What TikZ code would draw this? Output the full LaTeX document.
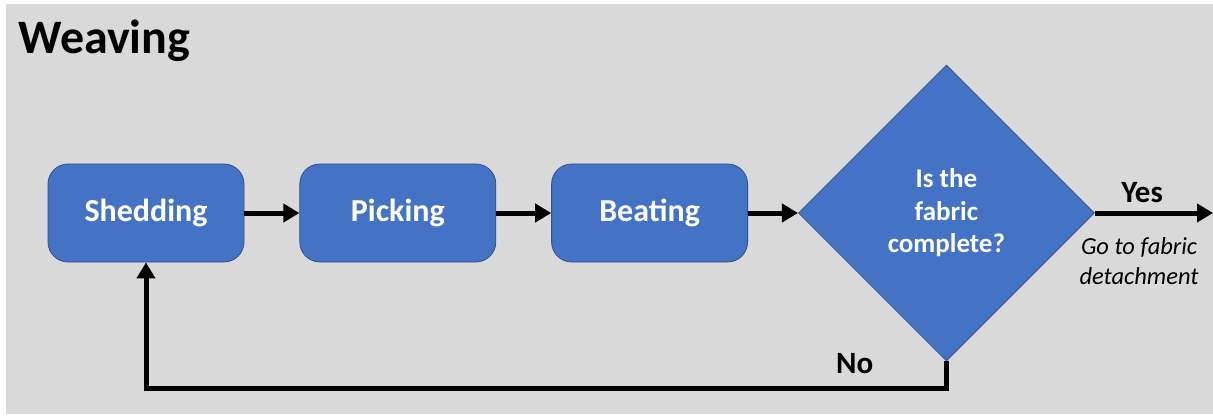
\documentclass[tikz,border=0pt]{standalone}
\usepackage{fontspec}
\setmainfont{Carlito}
\usetikzlibrary{shapes.geometric, arrows.meta, positioning}

\definecolor{stepblue}{HTML}{4472C4}
\definecolor{stepedge}{HTML}{2F528F}
\definecolor{slidegray}{HTML}{D9D9D9}

\begin{document}
\begin{tikzpicture}[
    x=1pt, y=-1pt,
    node distance=55pt,
    % Stili dei nodi
    stepbox/.style={rectangle, rounded corners=20pt, draw=stepedge, line width=0.8pt, fill=stepblue, minimum width=196pt, minimum height=98pt, text=white, font=\fontsize{32}{38}\selectfont\bfseries},
    decision/.style={diamond, aspect=1, draw=stepedge, line width=0.8pt, fill=stepblue, minimum width=296pt, minimum height=296pt, inner sep=0pt, text=white, align=center, font=\fontsize{27}{32.5}\selectfont\bfseries},
    answer/.style={font=\fontsize{31}{36}\selectfont\bfseries},
    arrow/.style={-{Triangle[length=16pt, width=18pt]}, line width=5pt}
]

    % ==================== SFONDO ====================
    \useasboundingbox (0,0) rectangle (1213,417);
    \fill[white] (0,0) rectangle (1213,417);
    \fill[slidegray] (6,4) rectangle (1213,414);

    \node[anchor=base west, inner sep=0pt, font=\fontsize{48}{56}\selectfont\bfseries] (title) at (18,54) {Weaving};

    % ==================== FASI ====================
    \node [stepbox] (shedding) at (146,213) {Shedding};
    \node [stepbox, right=of shedding] (picking) {Picking};
    \node [stepbox, right=of picking] (beating) {Beating};

    \node [decision, right=50pt of beating] (complete) {Is the\\fabric\\complete?};

    % Connessioni tra le fasi
    \draw [arrow] (shedding) -- (picking);
    \draw [arrow] (picking) -- (beating);
    \draw [arrow] (beating) -- (complete);

    % ==================== USCITA ====================
    \coordinate (exit) at (1213,213);
    \draw [arrow] (complete.east) -- node[answer, pos=0.4, above=4pt] (yes) {Yes} (exit);
    \node [below=28pt of yes, xshift=-3pt, align=center, inner sep=0pt, font=\fontsize{24.5}{30}\selectfont\itshape] (detach) {Go to fabric\\detachment};

    % Ritorno a Shedding
    \draw [arrow] (complete.south) -- ++(0,27) -| (shedding.south);
    \node [answer, anchor=base east, inner sep=0pt] (no) at ([shift={(-73,12)}]complete.south) {No};

\end{tikzpicture}
\end{document}
